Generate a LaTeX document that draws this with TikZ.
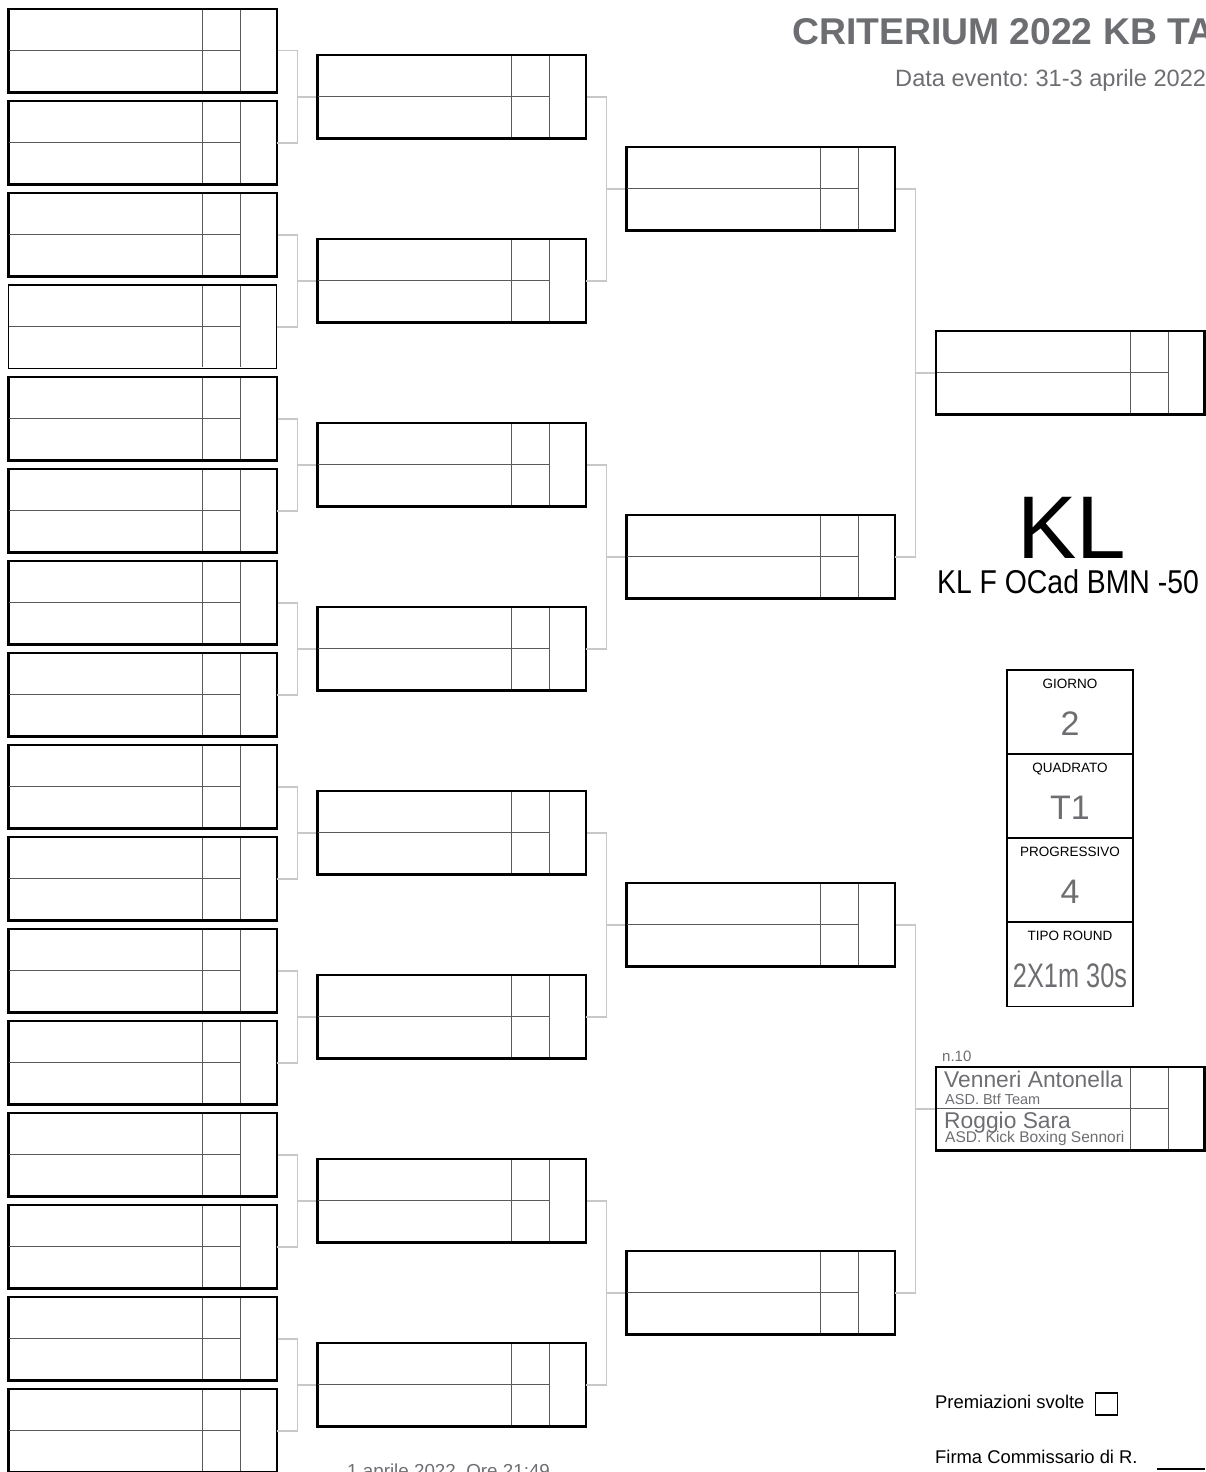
\documentclass[tikz,border=0pt]{standalone}
\usepackage{fontspec}
\setmainfont{Liberation Sans}
\usetikzlibrary{calc}

\definecolor{txtgray}{HTML}{6D6E71}
\definecolor{linkgray}{HTML}{C8C8C8}
\definecolor{rulegray}{HTML}{5A5A5A}

% font size in pixels of the sheet
\newcommand{\px}[1]{\fontsize{#1}{#1}\selectfont}

% one fight: frame, score columns, middle line
\newcommand{\fightbox}[4][]{%
  \node[fight,#1] (#2) at ({#3},{#4}) {};
  \draw[rule] ([xshift=194.5pt]#2.north west) -- ([xshift=194.5pt]#2.south west);
  \draw[rule] ([xshift=232pt]#2.north west) -- ([xshift=232pt]#2.south west);
  \draw[rule, shorten >=0pt] (#2.west) -- ([xshift=232pt]#2.west);
}

\begin{document}
\frenchspacing
\begin{tikzpicture}[x=1pt,y=-1pt,
    fight/.style={draw=black, line width=2.4pt, minimum width=268.4pt, minimum height=83.5pt, inner sep=0pt, outer sep=0pt},
    thin frame/.style={line width=1.5pt},
    rule/.style={draw=rulegray, line width=1.2pt, shorten <=1.1pt, shorten >=1.1pt},
    link/.style={draw=linkgray, line width=1.4pt, shorten <=1.2pt},
    info/.style={draw=black, line width=1.8pt, minimum width=126pt, minimum height=84pt, inner sep=0pt, outer sep=0pt},
    lbl/.style={anchor=base, inner sep=0pt, font=\px{13.5}},
    val/.style={anchor=base, inner sep=0pt, text=txtgray, font=\px{34}},
    txt/.style={anchor=base west, inner sep=0pt}]
    \useasboundingbox (0,0) rectangle (1205,1472);

    % Fights, round by round
    \foreach \k in {0,...,15} {
        \ifnum\k=3 \fightbox[thin frame]{a\k}{142.5}{50.8+92*\k}
        \else \fightbox{a\k}{142.5}{50.8+92*\k}\fi
    }
    \foreach \k in {0,...,7} \fightbox{b\k}{451.5}{96.8+184*\k};
    \foreach \k in {0,...,3} \fightbox{c\k}{760.5}{188.8+368*\k};
    \foreach \k in {0,1} \fightbox{d\k}{1070.3}{372.8+736*\k};

    % Brackets
    \foreach \k in {0,...,7} {
        \pgfmathtruncatemacro{\i}{2*\k}
        \pgfmathtruncatemacro{\j}{2*\k+1}
        \draw[link] (a\i.east) -- ++(20.5,0) |- (a\j.east);
        \draw[link] (b\k.west) -- ++(-20.5,0);
    }
    \foreach \k in {0,...,3} {
        \pgfmathtruncatemacro{\i}{2*\k}
        \pgfmathtruncatemacro{\j}{2*\k+1}
        \draw[link] (b\i.east) -- ++(20.5,0) |- (b\j.east);
        \draw[link] (c\k.west) -- ++(-20.5,0);
    }
    \foreach \k in {0,1} {
        \pgfmathtruncatemacro{\i}{2*\k}
        \pgfmathtruncatemacro{\j}{2*\k+1}
        \draw[link] (c\i.east) -- ++(20.5,0) |- (c\j.east);
        \draw[link] (d\k.west) -- ++(-20.5,0);
    }

    % Heading
    \node[txt, text=txtgray, font=\px{37.3}\bfseries] (title) at (792,45) {CRITERIUM 2022 KB TA};
    \node[txt, text=txtgray, font=\px{23.6}] (date) at (895,86) {Data evento: 31-3 aprile 2022};

    % Category
    \node[anchor=base, inner sep=0pt, font=\px{89}] (cat) at (1072,558) {KL};
    \node[anchor=base, inner sep=0pt, font=\px{33}] (catname) at (1068,593) {\scalebox{0.86}[1]{KL F OCad BMN -50}};

    % Info column
    \foreach \n/\lab/\v/\cy in {giorno/GIORNO/2/712, quadrato/QUADRATO/T1/796,
        progr/PROGRESSIVO/4/880, round/TIPO ROUND/{\scalebox{0.745}[1]{2X1m 30s}}/964.5} {
        \node[info] (\n) at (1070,\cy) {};
        \node[lbl] (\n lbl) at ([yshift=-18pt]\n.north) {\lab};
        \node[val] (\n val) at ([yshift=-65pt]\n.north) {\v};
    }

    % Fight n.10
    \node[txt, text=txtgray, font=\px{15}] (num) at (942,1061) {n.10};
    \node[txt, text=txtgray, font=\px{22.8}] (red) at (944,1087) {Venneri Antonella};
    \node[txt, text=txtgray, font=\px{14.5}] (redclub) at (945,1104) {ASD. Btf Team};
    \node[txt, text=txtgray, font=\px{22.8}] (blue) at (944,1128) {Roggio Sara};
    \node[txt, text=txtgray, font=\px{15.5}] (blueclub) at (945,1142) {ASD. Kick Boxing Sennori};

    % Footer
    \node[txt, font=\px{18.4}] (prem) at (935,1408) {Premiazioni svolte};
    \node[draw=black, line width=1.5pt, minimum size=22pt, inner sep=0pt] (premok) at (1106.5,1404) {};
    \node[txt, font=\px{18.4}] (firma) at (935,1463) {Firma Commissario di R.};
    \draw[line width=1.3pt] (1157,1469) -- (1205,1469);
    \node[txt, text=txtgray, font=\px{18.8}] (stamp) at (347,1477) {1 aprile 2022\ \ Ore 21:49};
\end{tikzpicture}
\end{document}
